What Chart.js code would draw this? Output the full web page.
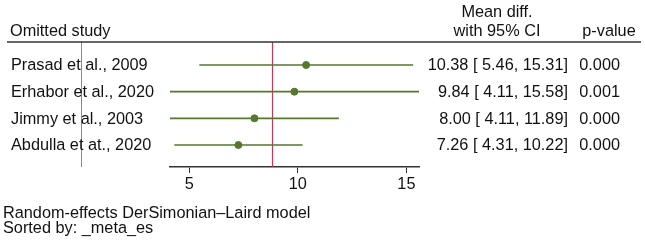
<!DOCTYPE html>
<html>
<head>
<meta charset="utf-8">
<script src="https://cdn.jsdelivr.net/npm/chart.js@4"></script>
<style>
  html, body { margin: 0; padding: 0; background: #fff; }
  #box { width: 645px; height: 240px; }
</style>
</head>
<body>
<div id="box"><canvas id="myChartCanvas"></canvas></div>
<script>
// dados do grafico (leave-one-out)
const estudos = ['Prasad et al., 2009', 'Erhabor et al., 2020', 'Jimmy et al., 2003', 'Abdulla et at., 2020'];
const efeito = [10.38, 9.84, 8.00, 7.26];
const inferior = [5.46, 4.11, 4.11, 4.31];
const superior = [15.31, 15.58, 11.89, 10.22];
const pvalores = ['0.000', '0.001', '0.000', '0.000'];
const efeitoGeral = 8.82;
const ticksX = [5, 10, 15];
const notas = ['Random-effects DerSimonian\u2013Laird model', 'Sorted by: _meta_es'];

const familia = '"Liberation Sans", Arial, sans-serif';
const fonte = '16.3px ' + familia;
const verde = '#55782d';

let datasets = [];
for (let i = 0; i < estudos.length; i++) {
  datasets.push({
    type: 'line',
    data: [{ x: inferior[i], y: i + 1 }, { x: superior[i], y: i + 1 }],
    borderColor: verde,
    borderWidth: 1.6,
    pointRadius: 0,
    fill: false
  });
}
let pontos = [];
for (let i = 0; i < efeito.length; i++) {
  pontos.push({ x: efeito[i], y: i + 1 });
}
datasets.push({
  type: 'scatter',
  data: pontos,
  backgroundColor: verde,
  borderColor: verde,
  pointRadius: 3.5
});

const textos = {
  id: 'textos',
  beforeDatasetsDraw(chart) {
    const ctx = chart.ctx;
    const area = chart.chartArea;
    const x = chart.scales.x;
    ctx.save();
    // linha do efeito geral
    ctx.strokeStyle = '#c03a5c';
    ctx.lineWidth = 1.2;
    const xr = Math.round(x.getPixelForValue(efeitoGeral)) + 0.5;
    ctx.beginPath();
    ctx.moveTo(xr, area.top);
    ctx.lineTo(xr, area.bottom);
    ctx.stroke();
    ctx.restore();
  },
  afterDraw(chart) {
    const ctx = chart.ctx;
    const area = chart.chartArea;
    const y = chart.scales.y;
    ctx.save();
    // linha cinza
    ctx.strokeStyle = '#8a8a8a';
    ctx.lineWidth = 1;
    ctx.beginPath();
    ctx.moveTo(81.5, area.top);
    ctx.lineTo(81.5, area.bottom);
    ctx.stroke();
    // linha do cabecalho
    ctx.strokeStyle = '#333';
    ctx.lineWidth = 1.6;
    ctx.beginPath();
    ctx.moveTo(7, area.top);
    ctx.lineTo(641, area.top);
    ctx.stroke();

    ctx.fillStyle = '#111';
    ctx.font = fonte;
    ctx.textBaseline = 'middle';
    ctx.textAlign = 'left';
    ctx.fillText('Omitted study', 10, 32);
    ctx.textAlign = 'center';
    ctx.fillText('Mean diff.', 497, 13);
    ctx.fillText('with 95% CI', 497, 32);
    ctx.fillText('p-value', 609, 32);

    for (let i = 0; i < estudos.length; i++) {
      const yy = y.getPixelForValue(i + 1) + 1;
      ctx.textAlign = 'left';
      ctx.fillText(estudos[i], 11, yy);
      ctx.textAlign = 'right';
      const ic = efeito[i].toFixed(2) + ' [' + inferior[i].toFixed(2).padStart(5, ' ') + ', ' + superior[i].toFixed(2).padStart(5, ' ') + ']';
      ctx.fillText(ic, 568, yy);
      ctx.fillText(pvalores[i], 620, yy);
    }

    ctx.textAlign = 'left';
    ctx.fillText(notas[0], 3, 214);
    ctx.fillText(notas[1], 3, 229);
    ctx.restore();
  }
};

const config = {
  type: 'scatter',
  data: { datasets: datasets },
  options: {
    responsive: false,
    animation: false,
    layout: { padding: { left: 170, right: 226, top: 42, bottom: 40 } },
    plugins: { legend: { display: false }, tooltip: { enabled: false } },
    scales: {
      x: {
        type: 'linear',
        min: 4.11,
        max: 15.58,
        afterBuildTicks: function (scale) {
          scale.ticks = ticksX.map(function (v) { return { value: v }; });
        },
        afterFit: function (scale) { scale.height = 33; },
        grid: { drawOnChartArea: false, drawTicks: true, tickLength: 6, color: '#333' },
        border: { display: true, color: '#333', width: 1.6 },
        ticks: { color: '#111', font: { family: familia, size: 16.3 }, padding: 2 }
      },
      y: {
        type: 'linear',
        display: false,
        reverse: true,
        min: 0.1375,
        max: 4.825
      }
    }
  },
  plugins: [textos]
};

const canvas = document.getElementById('myChartCanvas');
canvas.width = 645;
canvas.height = 240;
let myChart = new Chart(canvas, config);
</script>
</body>
</html>
